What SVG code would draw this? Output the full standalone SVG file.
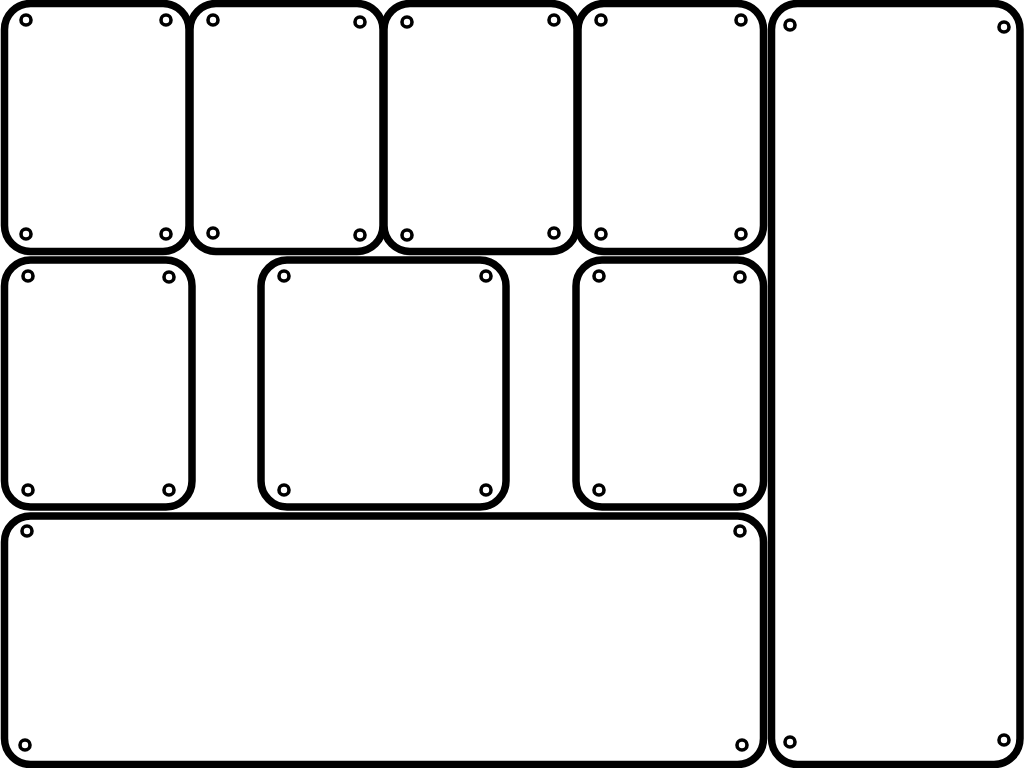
<svg xmlns="http://www.w3.org/2000/svg" width="1024" height="768" viewBox="0 0 1024 768">
<style>
.p{fill:#fff;stroke:#000;stroke-width:7.5}
.h{fill:#fff;stroke:#000;stroke-width:3.6}
</style>
<rect width="1024" height="768" fill="#fff"/>
<g id="panel1"><rect class="p" x="4.5" y="3.5" width="184.5" height="248" rx="26"/>
<circle class="h" cx="26" cy="20" r="5"/><circle class="h" cx="166" cy="20" r="5"/><circle class="h" cx="26" cy="234" r="5"/><circle class="h" cx="166" cy="234" r="5"/></g>
<g id="panel2"><rect class="p" x="190" y="3.5" width="193" height="248" rx="26"/>
<circle class="h" cx="213" cy="20" r="5"/><circle class="h" cx="360" cy="22" r="5"/><circle class="h" cx="213" cy="233" r="5"/><circle class="h" cx="360" cy="235" r="5"/></g>
<g id="panel3"><rect class="p" x="384" y="3.5" width="193" height="248" rx="26"/>
<circle class="h" cx="407" cy="22" r="5"/><circle class="h" cx="554" cy="20" r="5"/><circle class="h" cx="407" cy="235" r="5"/><circle class="h" cx="554" cy="233" r="5"/></g>
<g id="panel4"><rect class="p" x="578" y="3.5" width="185.5" height="248" rx="26"/>
<circle class="h" cx="601" cy="20" r="5"/><circle class="h" cx="741" cy="20" r="5"/><circle class="h" cx="601" cy="234" r="5"/><circle class="h" cx="741" cy="234" r="5"/></g>
<g id="panel5"><rect class="p" x="4.5" y="260" width="187.5" height="247" rx="26"/>
<circle class="h" cx="28" cy="276" r="5"/><circle class="h" cx="169" cy="277" r="5"/><circle class="h" cx="28" cy="490" r="5"/><circle class="h" cx="169" cy="490" r="5"/></g>
<g id="panel6"><rect class="p" x="261" y="260" width="245" height="247" rx="26"/>
<circle class="h" cx="284" cy="276" r="5"/><circle class="h" cx="486" cy="276" r="5"/><circle class="h" cx="284" cy="490" r="5"/><circle class="h" cx="486" cy="490" r="5"/></g>
<g id="panel7"><rect class="p" x="576" y="260" width="187.5" height="247" rx="26"/>
<circle class="h" cx="599" cy="276" r="5"/><circle class="h" cx="740" cy="277" r="5"/><circle class="h" cx="599" cy="490" r="5"/><circle class="h" cx="740" cy="490" r="5"/></g>
<g id="panel8"><rect class="p" x="4.5" y="516" width="759" height="248.5" rx="26"/>
<circle class="h" cx="27" cy="531" r="5"/><circle class="h" cx="740" cy="531" r="5"/><circle class="h" cx="25" cy="745" r="5"/><circle class="h" cx="742" cy="745" r="5"/></g>
<g id="panel9"><rect class="p" x="771.5" y="3.5" width="248.5" height="761" rx="26"/>
<circle class="h" cx="790" cy="25" r="5"/><circle class="h" cx="1004" cy="27" r="5"/><circle class="h" cx="790" cy="742" r="5"/><circle class="h" cx="1004" cy="740" r="5"/></g>
<g id="connectors"></g>
</svg>
